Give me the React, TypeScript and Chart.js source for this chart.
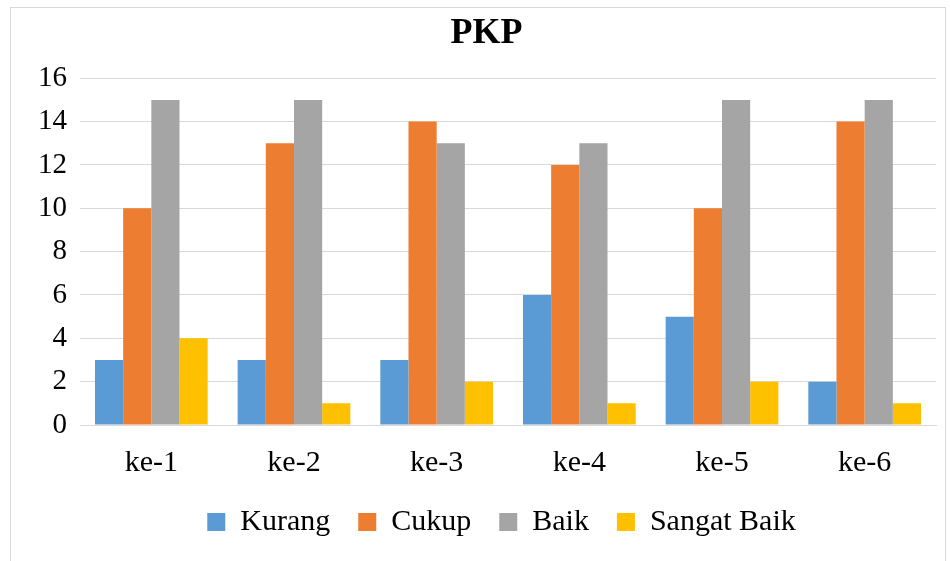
import React, { useEffect, useRef } from "react";
import { Chart, registerables } from "chart.js";

Chart.register(...registerables);

const categories = ["ke-1", "ke-2", "ke-3", "ke-4", "ke-5", "ke-6"];
const kurang = [3, 3, 3, 6, 5, 2];
const cukup = [10, 13, 14, 12, 10, 14];
const baik = [15, 15, 13, 13, 15, 15];
const sangatBaik = [4, 1, 2, 1, 2, 1];
const seriesNames = ["Kurang", "Cukup", "Baik", "Sangat Baik"];
const colors = ["#5B9BD5", "#ED7D31", "#A5A5A5", "#FFC000"];
const yTickMax = 16;
const yTickStep = 2;

const FONT = "'Liberation Serif', 'Times New Roman', serif";

const blockShift = {
  id: "blockShift",
  afterLayout(chart: any) {
    const lg = chart.legend;
    if (lg) {
      lg.left += 21;
      lg.right += 21;
    }
    const tb = chart.titleBlock;
    if (tb) {
      tb.left += 6;
      tb.right += 6;
    }
  },
};

export default function App() {
  const ref = useRef<HTMLCanvasElement | null>(null);
  useEffect(() => {
    if (!ref.current) return;
    const values = [kurang, cukup, baik, sangatBaik];
    const chart = new Chart(ref.current, {
      type: "bar",
      data: {
        labels: categories,
        datasets: seriesNames.map((name, i) => ({
          label: name,
          data: values[i],
          backgroundColor: colors[i],
          borderWidth: 0,
          categoryPercentage: 0.79,
          barPercentage: 1,
        })),
      },
      plugins: [blockShift],
      options: {
        animation: false,
        responsive: false,
        maintainAspectRatio: false,
        layout: { padding: { left: 14, right: 9, top: 0, bottom: 12 } },
        plugins: {
          tooltip: { enabled: false },
          title: {
            display: true,
            text: "PKP",
            color: "#000",
            font: { family: FONT, size: 36, weight: "bold" },
            padding: { top: 4, bottom: 23 },
          },
          legend: {
            position: "bottom",
            labels: {
              color: "#000",
              font: { family: FONT, size: 30 },
              boxWidth: 18,
              boxHeight: 18,
              padding: 28,
            },
          },
        },
        scales: {
          x: {
            grid: { display: false, drawTicks: false },
            border: { display: true, color: "#d9d9d9", width: 1 },
            ticks: { color: "#000", font: { family: FONT, size: 30 }, padding: 20 },
            afterFit: (scale: any) => {
              scale.height -= 22;
            },
          },
          y: {
            min: 0,
            max: yTickMax,
            grid: { color: "#d9d9d9", drawTicks: false, lineWidth: 1 },
            border: { display: false },
            ticks: { stepSize: yTickStep, color: "#000", font: { family: FONT, size: 29 }, padding: 13 },
          },
        },
      },
    });
    return () => chart.destroy();
  }, []);
  return (
    <div
      style={{
        position: "absolute",
        left: 10,
        top: 7,
        width: 936,
        height: 560,
        border: "1px solid #d9d9d9",
        boxSizing: "border-box",
        background: "#fff",
      }}
    >
      <canvas ref={ref} width={934} height={551} style={{ display: "block" }} />
    </div>
  );
}
